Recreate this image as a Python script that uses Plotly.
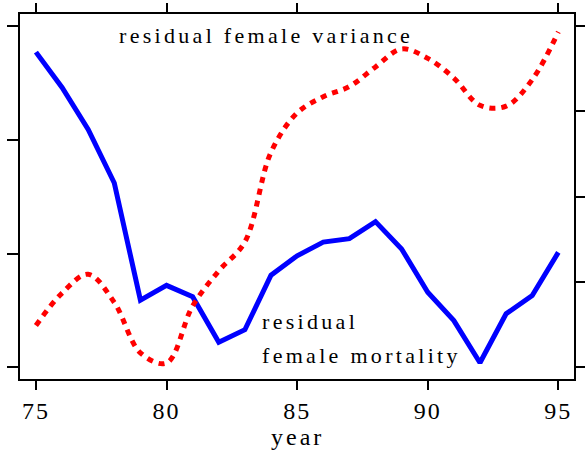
import plotly.graph_objects as go

# data (axes carry no value labels, so units are arbitrary)
years = list(range(75, 96))
mortality = [2.77, 2.46, 2.09, 1.62, 0.59, 0.72, 0.62, 0.22, 0.33, 0.81, 0.98,
             1.10, 1.13, 1.28, 1.04, 0.66, 0.41, 0.04, 0.47, 0.63, 1.01]
variance = [0.49, 0.87, 1.09, 0.76, 0.17, 0.05, 0.72, 1.13, 1.47, 2.52, 2.98,
            3.17, 3.29, 3.52, 3.73, 3.62, 3.39, 3.07, 3.06, 3.37, 3.93]
x_ticks = [75, 80, 85, 90, 95]
left_ticks = [0, 1, 2, 3]
right_ticks = [0, 1, 2, 3, 4]

serif = "Liberation Serif"


def spaced(s, px=3):
    # wide letter spacing like the original typesetting
    return '<span style="letter-spacing:%spx">%s</span>' % (px, s)


fig = go.Figure()

# blue solid line: residual female mortality (left axis)
fig.add_trace(go.Scatter(
    x=years, y=mortality, mode="lines",
    line=dict(color="#0000ff", width=5),
    yaxis="y", hoverinfo="skip",
))

# red dotted smooth line: residual female variance (right axis)
fig.add_trace(go.Scatter(
    x=years, y=variance, mode="lines",
    line=dict(color="#ff0000", width=5, dash="6px,6px", shape="spline", smoothing=1),
    yaxis="y2", hoverinfo="skip",
))

axis_common = dict(showline=True, linecolor="black", linewidth=2,
                   ticks="outside", tickcolor="black", tickwidth=2,
                   showgrid=False, zeroline=False, automargin=False)

fig.update_layout(
    width=585, height=456,
    margin=dict(l=20, r=11, t=14, b=77, autoexpand=False),
    paper_bgcolor="white", plot_bgcolor="white",
    showlegend=False,
    font=dict(family=serif, color="black"),
    xaxis=dict(axis_common, range=[74.39, 95.6], tickvals=x_ticks,
               ticktext=[spaced(str(t), 2) for t in x_ticks], ticklen=9,
               mirror="ticks", tickfont=dict(size=24)),
    yaxis=dict(axis_common, range=[-0.103, 3.105], tickvals=left_ticks,
               ticklen=11, showticklabels=False),
    yaxis2=dict(axis_common, range=[-0.137, 4.14], tickvals=right_ticks,
                ticklen=11, showticklabels=False, overlaying="y", side="right"),
    annotations=[
        dict(text=spaced("residual female variance", 3.3),
             xref="paper", yref="paper", x=0.444, y=0.94, showarrow=False,
             xanchor="center", yanchor="middle", font=dict(size=22)),
        dict(text=spaced("residual", 3.3),
             xref="paper", yref="paper", x=0.433, y=0.157, showarrow=False,
             xanchor="left", yanchor="middle", font=dict(size=22)),
        dict(text=spaced("female mortality", 3.3),
             xref="paper", yref="paper", x=0.433, y=0.064, showarrow=False,
             xanchor="left", yanchor="middle", font=dict(size=22)),
        dict(text=spaced("year"),
             xref="paper", yref="paper", x=0.5, y=-0.159, showarrow=False,
             xanchor="center", yanchor="middle", font=dict(size=24)),
    ],
)

# drop the browser's default body margin so the figure sits at the page corner
fig.write_html("out.html", config={"displayModeBar": False},
               post_script="document.body.style.margin='0';")
